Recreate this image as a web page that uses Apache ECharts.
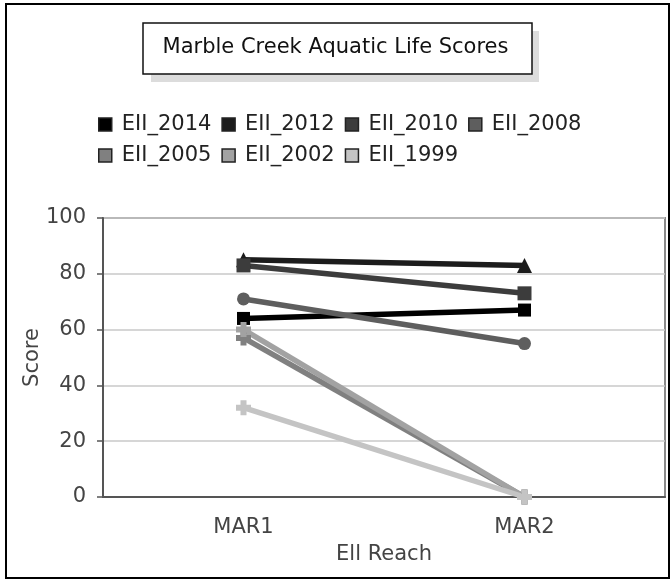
<!DOCTYPE html>
<html>
<head>
<meta charset="utf-8">
<script src="https://cdn.jsdelivr.net/npm/echarts@6/dist/echarts.min.js"></script>
<style>
  html, body { margin: 0; padding: 0; background: #fff; }
  #main { width: 671px; height: 580px; }
</style>
</head>
<body>
<div id="main"></div>
<script>
var reaches = ['MAR1', 'MAR2'];
var seriesNames = ['EII_2014', 'EII_2012', 'EII_2010', 'EII_2008', 'EII_2005', 'EII_2002', 'EII_1999'];
var eii2014 = [64, 67];
var eii2012 = [85, 83];
var eii2010 = [83, 73];
var eii2008 = [71, 55];
var eii2005 = [57, 0];
var eii2002 = [60, 0];
var eii1999 = [32, 0];
var yTicks = [0, 20, 40, 60, 80, 100];

var values = [eii2014, eii2012, eii2010, eii2008, eii2005, eii2002, eii1999];
var colors = ['#000000', '#1c1c1c', '#3c3c3c', '#5e5e5e', '#808080', '#a2a2a2', '#c4c4c4'];
var plus = 'path://M3,0H7V3H10V7H7V10H3V7H0V3H3Z';
var symbols = ['rect', 'triangle', 'rect', 'circle', plus, plus, plus];
var sizes = [13, 15, 14, 13, 15, 15, 15];
var font = 'DejaVu Sans';
var fs = 21;

var chart = echarts.init(document.getElementById('main'), null, { renderer: 'canvas' });

var series = seriesNames.map(function (name, i) {
  return {
    name: name,
    type: 'line',
    data: values[i],
    symbol: symbols[i],
    symbolSize: sizes[i],
    showAllSymbol: true,
    lineStyle: { width: 5.5, color: colors[i] },
    itemStyle: { color: colors[i] },
    emphasis: { disabled: true },
    animation: false
  };
});

function legendOf(names, top) {
  return {
    data: names,
    left: 98,
    top: top,
    padding: 0,
    orient: 'horizontal',
    icon: 'rect',
    itemWidth: 13,
    itemHeight: 13,
    itemGap: 10,
    itemStyle: { borderColor: '#222', borderWidth: 1.5 },
    textStyle: { fontFamily: font, fontSize: fs, color: '#222', padding: [0, 0, 0, 5] },
    selectedMode: false
  };
}

var option = {
  backgroundColor: '#fff',
  animation: false,
  color: colors,
  title: {
    text: 'Marble Creek Aquatic Life Scores',
    left: 'center',
    top: 32,
    textStyle: { fontFamily: font, fontSize: fs, fontWeight: 'normal', color: '#111' }
  },
  legend: [
    legendOf(seriesNames.slice(0, 4), 114),
    legendOf(seriesNames.slice(4), 145)
  ],
  grid: {
    left: 103, right: 6, top: 218, bottom: 83,
    show: true, borderColor: '#8a8a8a', borderWidth: 2
  },
  xAxis: {
    type: 'category',
    data: reaches,
    boundaryGap: true,
    name: 'Ell Reach',
    nameLocation: 'middle',
    nameGap: 47,
    nameMoveOverlap: false,
    nameTextStyle: { fontFamily: font, fontSize: fs, color: '#444' },
    axisLine: { lineStyle: { color: '#555', width: 2 } },
    axisTick: { alignWithLabel: true, length: 6, lineStyle: { color: '#555', width: 1.5 } },
    axisLabel: { fontFamily: font, fontSize: fs, color: '#444', margin: 20 }
  },
  yAxis: {
    type: 'value',
    min: yTicks[0],
    max: yTicks[yTicks.length - 1],
    interval: 20,
    name: 'Score',
    nameLocation: 'middle',
    nameGap: 60,
    nameMoveOverlap: false,
    nameTextStyle: { fontFamily: font, fontSize: fs, color: '#444' },
    axisLine: { show: true, lineStyle: { color: '#555', width: 2 } },
    axisTick: { show: true, length: 6, lineStyle: { color: '#555', width: 1.5 } },
    axisLabel: { fontFamily: font, fontSize: fs, color: '#444', margin: 17 },
    splitLine: { lineStyle: { color: '#c8c8c8', width: 1.5 } }
  },
  graphic: [
    { type: 'rect', shape: { x: 6, y: 4, width: 663, height: 574 },
      style: { fill: null, stroke: '#000', lineWidth: 2 }, z: 100 },
    { type: 'rect', shape: { x: 151, y: 31, width: 388, height: 51 },
      style: { fill: '#dcdcdc' }, z: -1 },
    { type: 'rect', shape: { x: 143, y: 23, width: 389, height: 51 },
      style: { fill: '#fff', stroke: '#111', lineWidth: 1.5 }, z: 0 }
  ],
  series: series
};

chart.setOption(option);
</script>
</body>
</html>
